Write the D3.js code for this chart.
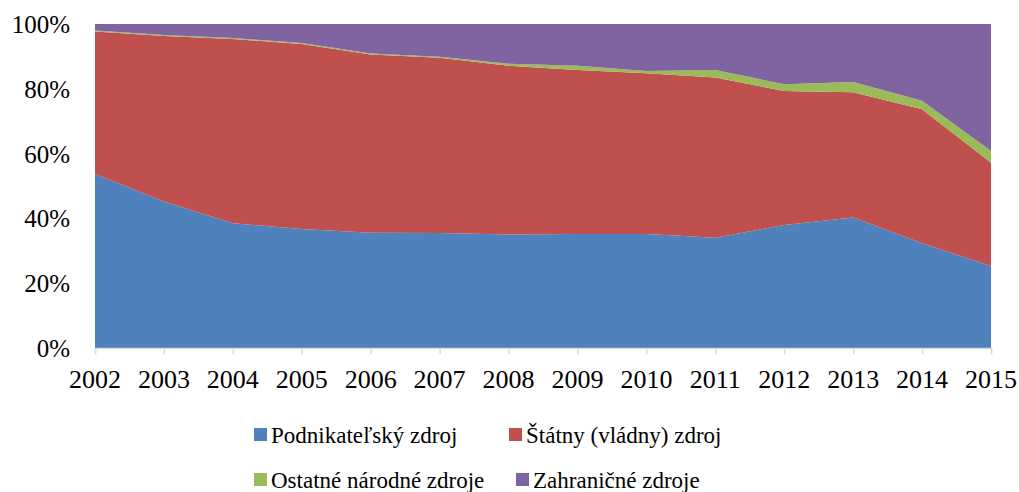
<!DOCTYPE html>
<html>
<head>
<meta charset="utf-8">
<script src="https://cdn.jsdelivr.net/npm/d3@7"></script>
</head>
<body style="margin:0; font-family:'Liberation Serif'">
<div id="graph"></div>
<script>
// data (share of each source, %)
const years = [2002, 2003, 2004, 2005, 2006, 2007, 2008, 2009, 2010, 2011, 2012, 2013, 2014, 2015];
const podnikatelsky = [53.7, 45.2, 38.5, 36.7, 35.6, 35.5, 35.0, 35.2, 35.2, 34.0, 38.0, 40.3, 32.3, 25.3];
const statny = [44.0, 51.1, 56.9, 57.1, 55.0, 54.1, 52.1, 50.6, 49.6, 49.5, 41.3, 38.6, 41.4, 31.9];
const ostatne = [0.3, 0.3, 0.3, 0.3, 0.3, 0.3, 0.6, 1.3, 0.7, 2.3, 2.1, 3.2, 2.6, 3.6];
const zahranicne = [2.0, 3.4, 4.3, 5.9, 9.1, 10.1, 12.3, 12.9, 14.5, 14.2, 18.6, 17.9, 23.7, 39.2];
const seriesNames = ["Podnikateľský zdroj", "Štátny (vládny) zdroj", "Ostatné národné zdroje", "Zahraničné zdroje"];
const colors = ["#4F81BD", "#C0504D", "#9BBB59", "#8064A2"];
const yTicks = [0, 0.2, 0.4, 0.6, 0.8, 1];

const width = 1019, height = 492;
const margin = { top: 24, right: 28, bottom: 144, left: 95 };
const serif = "Times New Roman";

const svg = d3.select("#graph").append("svg")
  .attr("width", width)
  .attr("height", height)
  .attr("font-family", serif);

const rows = years.map((y, i) => {
  const total = podnikatelsky[i] + statny[i] + ostatne[i] + zahranicne[i];
  return {
    year: y,
    s0: podnikatelsky[i] / total,
    s1: statny[i] / total,
    s2: ostatne[i] / total,
    s3: zahranicne[i] / total
  };
});

const keys = ["s0", "s1", "s2", "s3"];
const stacked = d3.stack().keys(keys)(rows);

const x = d3.scaleLinear()
  .domain(d3.extent(years))
  .range([margin.left, width - margin.right]);

const y = d3.scaleLinear()
  .domain([0, 1])
  .range([height - margin.bottom, margin.top]);

const area = d3.area()
  .x(d => x(d.data.year))
  .y0(d => y(d[0]))
  .y1(d => y(d[1]));

svg.append("g")
  .selectAll("path")
  .data(stacked)
  .enter()
  .append("path")
  .attr("fill", (d, i) => colors[i])
  .attr("d", area);

// x axis (ticks and labels drawn by hand so the font attribute sticks)
const xAxis = svg.append("g")
  .attr("transform", `translate(0,${height - margin.bottom})`)
  .call(d3.axisBottom(x).tickValues(years).tickFormat("").tickSize(6));
xAxis.select(".domain").attr("stroke", "#d9d9d9").attr("stroke-width", 1.5);
xAxis.selectAll(".tick line").attr("stroke", "#d9d9d9").attr("stroke-width", 1.5);
xAxis.selectAll(".tick text").remove();

svg.append("g")
  .selectAll("text")
  .data(years)
  .enter()
  .append("text")
  .attr("x", d => x(d))
  .attr("y", height - margin.bottom + 40)
  .attr("text-anchor", "middle")
  .attr("font-family", serif)
  .attr("font-size", 26)
  .attr("fill", "#000")
  .text(d => d);

// y axis labels
svg.append("g")
  .selectAll("text")
  .data(yTicks)
  .enter()
  .append("text")
  .attr("x", margin.left - 25)
  .attr("y", d => y(d) + 9)
  .attr("text-anchor", "end")
  .attr("font-family", serif)
  .attr("font-size", 25)
  .attr("fill", "#000")
  .text(d => d3.format(".0%")(d));

// legend
const legendPos = [
  { x: 254, y: 428 },
  { x: 509, y: 428 },
  { x: 254, y: 473 },
  { x: 516, y: 473 }
];
const legend = svg.append("g")
  .selectAll("g")
  .data(seriesNames)
  .enter()
  .append("g")
  .attr("transform", (d, i) => `translate(${legendPos[i].x},${legendPos[i].y})`);

legend.append("rect")
  .attr("width", 13)
  .attr("height", 13)
  .attr("fill", (d, i) => colors[i]);

legend.append("text")
  .attr("x", 17)
  .attr("y", 15)
  .attr("font-family", serif)
  .attr("font-size", 23)
  .attr("fill", "#000")
  .text(d => d);
</script>
</body>
</html>
